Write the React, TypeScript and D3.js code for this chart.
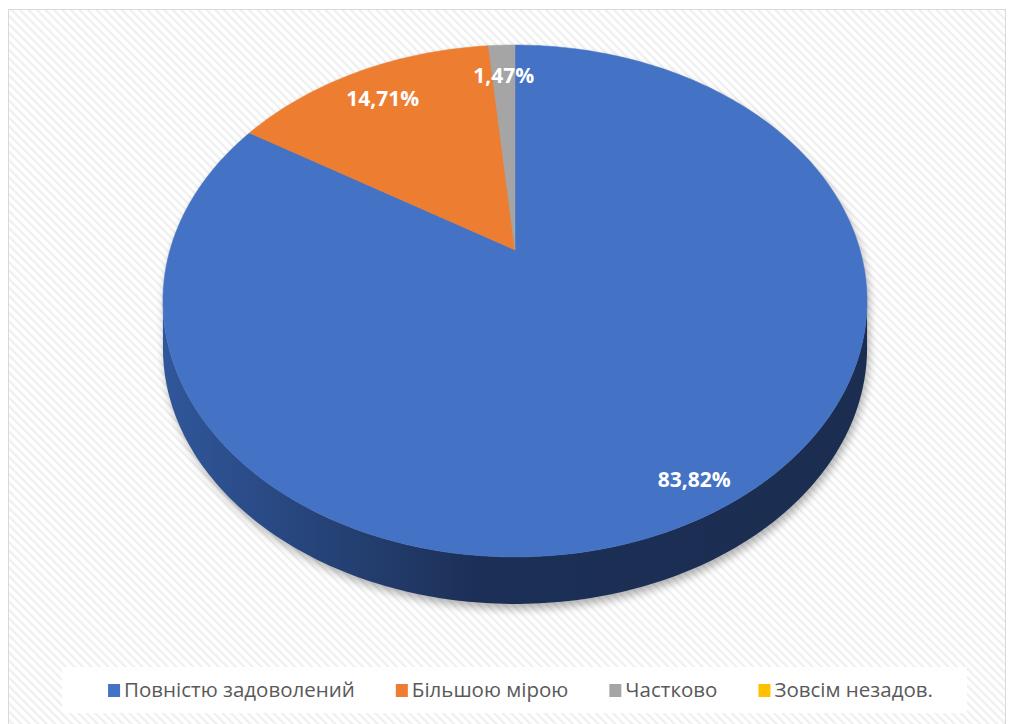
import * as d3 from "d3";
import { useEffect, useRef } from "react";

const categories = ["Повністю задоволений", "Більшою мірою", "Частково", "Зовсім незадов."];
const values = [83.82, 14.71, 1.47, 0];
const valueLabels = ["83,82%", "14,71%", "1,47%", ""];
const colors = ["#4472c4", "#ed7d31", "#a5a5a5", "#ffc000"];

const WIDTH = 1011;
const HEIGHT = 724;
// perspective disk: x = CX + S*u/w, y = (A*v + B)/w, w = 1 + K*v
const CX = 515;
const S = 345;
const A = 196;
const B = 250;
const K = -0.1992;
const DEPTH = 47;
const LEGEND = { x: 62, y: 667, w: 905, h: 46 };

interface Slice {
  label: string;
  text: string;
  color: string;
  value: number;
  start: number;
  end: number;
}

function project(angle: number, r = 1, dz = 0): [number, number] {
  const u = r * Math.sin(angle);
  const v = -r * Math.cos(angle);
  const w = 1 + K * v;
  return [CX + (S * u) / w, (A * v + B) / w + dz];
}

function arcPoints(a0: number, a1: number, dz = 0): [number, number][] {
  const n = Math.max(2, Math.ceil(Math.abs(a1 - a0) * 60));
  return d3.range(n + 1).map((i) => project(a0 + ((a1 - a0) * i) / n, 1, dz));
}

export default function App() {
  const svgRef = useRef<SVGSVGElement | null>(null);

  useEffect(() => {
    if (!svgRef.current) return;
    const svg = d3.select(svgRef.current);
    svg.selectAll("*").remove();

    const pie = d3
      .pie<number>()
      .sort(null)
      .value((d) => d);
    const slices: Slice[] = pie(values).map((p, i) => ({
      label: categories[i],
      text: valueLabels[i],
      color: colors[i],
      value: values[i],
      start: p.startAngle,
      end: p.endAngle,
    }));

    const defs = svg.append("defs");
    const pattern = defs
      .append("pattern")
      .attr("id", "stripes")
      .attr("patternUnits", "userSpaceOnUse")
      .attr("width", 6)
      .attr("height", 6)
      .attr("patternTransform", "rotate(-45)");
    pattern.append("rect").attr("width", 6).attr("height", 6).attr("fill", "#ffffff");
    pattern.append("rect").attr("width", 2.2).attr("height", 6).attr("fill", "#efefef");

    const grad = defs
      .append("linearGradient")
      .attr("id", "wall")
      .attr("gradientUnits", "userSpaceOnUse")
      .attr("x1", 163)
      .attr("x2", 867)
      .attr("y1", 0)
      .attr("y2", 0);
    grad.append("stop").attr("offset", 0).attr("stop-color", "#30579b");
    grad.append("stop").attr("offset", 0.45).attr("stop-color", "#1c2f56");
    grad.append("stop").attr("offset", 1).attr("stop-color", "#1b2d50");

    const blur = defs.append("filter").attr("id", "shadow").attr("x", "-10%").attr("y", "-10%").attr("width", "120%").attr("height", "120%");
    blur.append("feGaussianBlur").attr("stdDeviation", 4);

    svg.append("rect").attr("width", WIDTH).attr("height", HEIGHT).attr("fill", "#ffffff");
    svg
      .append("rect")
      .attr("x", 8.5)
      .attr("y", 9.5)
      .attr("width", 997)
      .attr("height", 730)
      .attr("fill", "url(#stripes)")
      .attr("stroke", "#d9d9d9");

    const line = d3.line();
    // silhouette angles where the rim is vertical (v = -K)
    const sil = Math.acos(K);
    const thetaR = sil;
    const thetaL = 2 * Math.PI - sil;

    const outline = [
      ...arcPoints(thetaL - 2 * Math.PI, thetaR, 0),
      ...arcPoints(thetaR, thetaL, DEPTH),
    ];
    svg
      .append("path")
      .attr("d", line(outline) + "Z")
      .attr("transform", "translate(2,5)")
      .attr("fill", "#000")
      .attr("opacity", 0.3)
      .attr("filter", "url(#shadow)");

    const wall = [...arcPoints(thetaR, thetaL, 0), ...arcPoints(thetaL, thetaR, DEPTH)];
    svg
      .append("path")
      .attr("d", line(wall) + "Z")
      .attr("fill", "url(#wall)");

    const apex = project(0, 0);
    const top = svg.append("g");
    top
      .selectAll("path")
      .data(slices.filter((d) => d.value > 0))
      .join("path")
      .attr("d", (d) => line([apex, ...arcPoints(d.start, d.end)]) + "Z")
      .attr("fill", (d) => d.color)
      .attr("stroke", (d) => d.color)
      .attr("stroke-width", 0.5);

    svg
      .append("g")
      .selectAll("text")
      .data(slices.filter((d) => d.value > 0))
      .join("text")
      .attr("transform", (d) => {
        const r = d.value > 50 ? 0.9 : 0.83;
        const [x, y] = project((d.start + d.end) / 2, r);
        return `translate(${x},${y})`;
      })
      .attr("text-anchor", "middle")
      .attr("dominant-baseline", "central")
      .attr("font-family", "'Open Sans', sans-serif")
      .attr("font-weight", 700)
      .attr("font-size", 21)
      .attr("fill", "#ffffff")
      .text((d) => d.text);

    const legend = svg.append("g");
    legend
      .append("rect")
      .attr("x", LEGEND.x)
      .attr("y", LEGEND.y)
      .attr("width", LEGEND.w)
      .attr("height", LEGEND.h)
      .attr("fill", "#ffffff")
      .attr("opacity", 0.9);

    const items = legend
      .selectAll<SVGGElement, Slice>("g.item")
      .data(slices)
      .join("g")
      .attr("class", "item");
    items
      .append("rect")
      .attr("y", LEGEND.y + 17)
      .attr("width", 12)
      .attr("height", 13)
      .attr("fill", (d) => d.color);
    const texts = items
      .append("text")
      .attr("x", 16)
      .attr("y", LEGEND.y + 30)
      .attr("font-family", "'Open Sans', sans-serif")
      .attr("font-size", 20.5)
      .attr("fill", "#595959")
      .text((d) => d.label);

    const widths = texts.nodes().map((n) => 16 + (n as SVGTextElement).getComputedTextLength());
    const gap = 41;
    const total = d3.sum(widths) + gap * (widths.length - 1);
    let x = 104 + (833 - total) / 2;
    items.attr("transform", (_, i) => {
      const t = `translate(${x},0)`;
      x += widths[i] + gap;
      return t;
    });
  }, []);

  return (
    <div style={{ position: "absolute", left: 0, top: 0 }}>
      <svg ref={svgRef} width={WIDTH} height={HEIGHT} style={{ display: "block" }} />
    </div>
  );
}
